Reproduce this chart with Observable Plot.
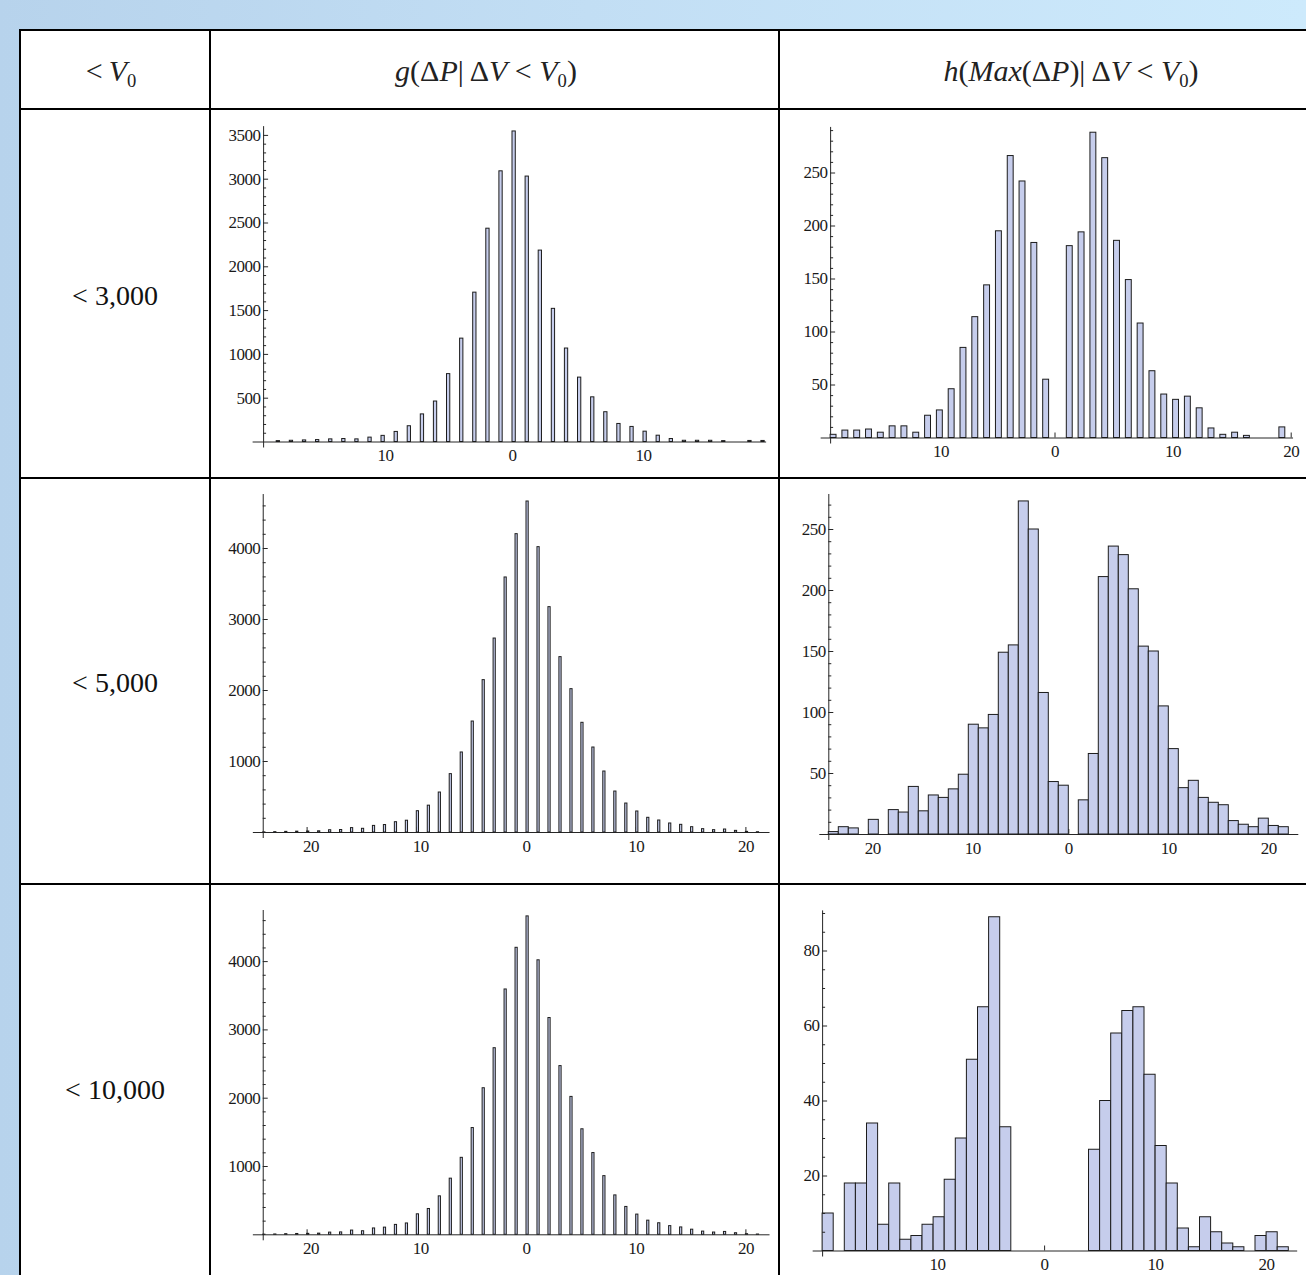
<!DOCTYPE html>
<html><head><meta charset="utf-8">
<script src="https://cdn.jsdelivr.net/npm/d3@7"></script>
<script src="https://cdn.jsdelivr.net/npm/@observablehq/plot@0.6"></script>
<style>
html,body{margin:0;padding:0;}
body{width:1306px;height:1275px;overflow:hidden;position:relative;background:linear-gradient(90deg,#b7d3ec 0%,#c2def4 45%,#cdeafc 100%);font-family:'Liberation Serif','Times New Roman',serif;}
#table{position:absolute;left:19px;top:29px;width:1400px;height:1400px;background:#fff;}
.vl{position:absolute;width:2px;background:#000;}
.hl{position:absolute;height:2px;background:#000;}
.hdr{position:absolute;transform:translate(-50%,-50%);font-size:30px;color:#222;white-space:nowrap;line-height:1;}
.hdr sub{font-size:0.62em;vertical-align:-0.3em;line-height:0;font-style:normal;}
.rowlab{position:absolute;transform:translate(-50%,-50%);font-size:28px;color:#111;white-space:nowrap;line-height:1;}
.chart{position:absolute;}
.chart svg{overflow:visible;display:block;}
.chart svg, .chart svg text{font-family:'Liberation Serif','Times New Roman',serif !important;font-size:17px !important;letter-spacing:-0.5px;}
</style></head>
<body>
<div id="table"></div>
<div class="vl" style="left:19px;top:29px;height:1300px"></div>
<div class="vl" style="left:209px;top:29px;height:1300px"></div>
<div class="vl" style="left:778px;top:29px;height:1300px"></div>
<div class="hl" style="left:19px;top:29px;width:1300px"></div>
<div class="hl" style="left:19px;top:108px;width:1300px"></div>
<div class="hl" style="left:19px;top:477px;width:1300px"></div>
<div class="hl" style="left:19px;top:883px;width:1300px"></div>

<div class="hdr" style="left:111px;top:71px">&lt;&thinsp;<i>V</i><sub>0</sub></div>
<div class="hdr" style="left:486px;top:71px"><i>g</i>(Δ<i>P</i>|&thinsp;Δ<i>V</i> &lt; <i>V</i><sub>0</sub>)</div>
<div class="hdr" style="left:1071px;top:71px"><i>h</i>(<i>Max</i>(Δ<i>P</i>)|&thinsp;Δ<i>V</i> &lt; <i>V</i><sub>0</sub>)</div>

<div class="rowlab" style="left:115px;top:296px">&lt; 3,000</div>
<div class="rowlab" style="left:115px;top:683px">&lt; 5,000</div>
<div class="rowlab" style="left:115px;top:1090px">&lt; 10,000</div>

<div id="c1" class="chart"></div>
<div id="c2" class="chart"></div>
<div id="c3" class="chart"></div>
<div id="c4" class="chart"></div>
<div id="c5" class="chart"></div>
<div id="c6" class="chart"></div>

<script>
// ---------- DATA ----------
// g(ΔP | ΔV < 3,000)
const g3000Bins = [-18,-17,-16,-15,-14,-13,-12,-11,-10,-9,-8,-7,-6,-5,-4,-3,-2,-1,0,1,2,3,4,5,6,7,8,9,10,11,12,13,14,15,16,17,18,19];
const g3000Counts = [10,14,18,22,30,34,30,50,70,115,180,315,462,775,1180,1705,2435,3090,3545,3030,2185,1520,1067,735,510,340,206,172,118,72,34,14,14,14,10,0,12,12];
// h(Max(ΔP) | ΔV < 3,000)
const h3000Bins = [-19,-18,-17,-16,-15,-14,-13,-12,-11,-10,-9,-8,-7,-6,-5,-4,-3,-2,-1,0,1,2,3,4,5,6,7,8,9,10,11,12,13,14,15,16,17,18,19];
const h3000Counts = [3,7,7,8,5,11,11,5,21,26,46,85,114,144,195,266,242,184,55,0,181,194,288,264,186,149,108,63,41,36,39,28,9,3,5,2,0,0,10];
// g(ΔP | ΔV < 5,000)
const g5000Bins = [-24,-23,-22,-21,-20,-19,-18,-17,-16,-15,-14,-13,-12,-11,-10,-9,-8,-7,-6,-5,-4,-3,-2,-1,0,1,2,3,4,5,6,7,8,9,10,11,12,13,14,15,16,17,18,19,20,21];
const g5000Counts = [2,5,9,12,14,17,32,35,62,52,93,105,145,166,300,378,563,822,1127,1563,2146,2732,3592,4202,4662,4019,3174,2470,2019,1545,1197,859,577,408,296,207,169,127,108,75,47,33,42,23,9,4];
// h(Max(ΔP) | ΔV < 5,000)
const h5000Bins = [-24,-23,-22,-21,-20,-19,-18,-17,-16,-15,-14,-13,-12,-11,-10,-9,-8,-7,-6,-5,-4,-3,-2,-1,0,1,2,3,4,5,6,7,8,9,10,11,12,13,14,15,16,17,18,19,20,21];
const h5000Counts = [2,6,5,0,12,0,20,18,39,19,32,30,37,49,90,87,98,149,155,273,250,116,43,40,0,28,66,211,236,229,201,154,150,105,70,38,44,30,26,24,11,8,6,13,7,6];
// g(ΔP | ΔV < 10,000)
const g10000Bins = [-24,-23,-22,-21,-20,-19,-18,-17,-16,-15,-14,-13,-12,-11,-10,-9,-8,-7,-6,-5,-4,-3,-2,-1,0,1,2,3,4,5,6,7,8,9,10,11,12,13,14,15,16,17,18,19,20,21];
const g10000Counts = [2,5,9,12,14,17,32,35,62,52,93,105,145,166,300,378,563,822,1127,1563,2146,2732,3592,4202,4662,4019,3174,2470,2019,1545,1197,859,577,408,296,207,169,127,108,75,47,33,42,23,9,4];
// h(Max(ΔP) | ΔV < 10,000)
const h10000Bins = [-20,-19,-18,-17,-16,-15,-14,-13,-12,-11,-10,-9,-8,-7,-6,-5,-4,-3,-2,-1,0,1,2,3,4,5,6,7,8,9,10,11,12,13,14,15,16,17,18,19,20,21];
const h10000Counts = [10,0,18,18,34,7,18,3,4,7,9,19,30,51,65,89,33,0,0,0,0,0,0,0,27,40,58,64,65,47,28,18,6,1,9,5,2,1,0,4,5,1];

// tick labels
const gTicksY3000 = [500,1000,1500,2000,2500,3000,3500];
const gTicksY5000 = [1000,2000,3000,4000];
const hTicksY = [50,100,150,200,250];
const hTicksY10000 = [20,40,60,80];
const xTicks3000g = [-10,0,10];
const xTicks3000h = [-10,0,10,20];
const xTicksWide = [-20,-10,0,10,20];
const xTicks10000h = [-10,0,10,20];

// ---------- STYLE / LAYOUT ----------
const FILL = "#c6cdec", EDGE = "#1c1c1c", AXIS = "#262626";
const col2 = {x:211, w:567}, col3 = {x:780, w:526};
const row1 = {y:110, h:367}, row2 = {y:479, h:404}, row3 = {y:885, h:390};

function minorTicks(step, top, major) {
  return d3.range(step, top, step).filter(v => !major.includes(v));
}

function drawChart(id, bins, counts, L) {
  const cell = L.cell;
  const el = document.getElementById(id);
  el.style.left = cell.x + "px"; el.style.top = cell.y + "px";
  const px = v => L.x0 + v * L.ux;
  const py = v => L.yb - v * L.uy;
  const mL = px(L.xa) - cell.x, mR = cell.x + cell.w - px(L.xe);
  const mT = py(L.yt) - cell.y, mB = cell.y + cell.h - L.yb;
  const ext = 6 / L.uy;
  const data = bins.map((b, i) => ({b, v: counts[i]})).filter(d => d.v > 0);
  const fmtX = d => d < 0 ? "\u2002" + Math.abs(d) : String(d);
  const fmtY = d => String(d);
  const minor = minorTicks(L.minorStep, L.yt, L.major);
  const svg = Plot.plot({
    width: cell.w, height: cell.h,
    marginLeft: mL, marginRight: mR, marginTop: mT, marginBottom: mB,
    x: {domain: [L.xa, L.xe], axis: null, label: null},
    y: {domain: [0, L.yt], axis: null, label: null},
    style: "font-family:'Liberation Serif','Times New Roman',serif;font-size:17px;background:transparent;color:#1a1a1a;overflow:visible;",
    marks: [
      Plot.ruleY([0], {x1: L.xs, x2: L.xe, stroke: AXIS}),
      Plot.ruleX([L.xa], {y1: -ext, y2: L.yt, stroke: AXIS}),
      Plot.axisX(L.xTicks, {anchor: "bottom", tickSize: -5, tickFormat: () => "", label: null, stroke: AXIS}),
      Plot.rect(data, {x1: "b", x2: d => d.b + L.barW, y1: 0, y2: "v", fill: FILL, stroke: EDGE, strokeWidth: 1}),
      Plot.axisY(minor, {anchor: "left", tickSize: -3, tickFormat: () => "", label: null, stroke: AXIS}),
      Plot.axisY(L.major, {anchor: "left", tickSize: -5, tickFormat: () => "", label: null, stroke: AXIS}),
      Plot.axisY(L.major, {anchor: "left", tickSize: 0, tickPadding: 3, tickFormat: fmtY, label: null}),
      Plot.axisX(L.xTicks, {anchor: "bottom", tickSize: 0, tickPadding: 7, tickFormat: fmtX, label: null})
    ]
  });
  el.appendChild(svg);
}

drawChart("c1", g3000Bins, g3000Counts, {cell:{...col2, ...row1}, x0:512, ux:13.1, yb:441.5, uy:0.0876, xa:-19, xs:-19.8, xe:19.4, yt:3600, barW:0.25, major:gTicksY3000, minorStep:100, xTicks:xTicks3000g});
drawChart("c2", h3000Bins, h3000Counts, {cell:{...col3, ...row1}, x0:1054.5, ux:11.81, yb:437.5, uy:1.06, xa:-19, xs:-19.8, xe:20.2, yt:293, barW:0.5, major:hTicksY, minorStep:10, xTicks:xTicks3000h});
drawChart("c3", g5000Bins, g5000Counts, {cell:{...col2, ...row2}, x0:526, ux:10.97, yb:832, uy:0.071, xa:-24, xs:-24.9, xe:22.2, yt:4760, barW:0.2, major:gTicksY5000, minorStep:200, xTicks:xTicksWide});
drawChart("c4", h5000Bins, h5000Counts, {cell:{...col3, ...row2}, x0:1068.3, ux:10.0, yb:834, uy:1.22, xa:-24, xs:-24.9, xe:23, yt:278.7, barW:1, major:hTicksY, minorStep:10, xTicks:xTicksWide});
drawChart("c5", g10000Bins, g10000Counts, {cell:{...col2, ...row3}, x0:526, ux:10.97, yb:1234.3, uy:0.0683, xa:-24, xs:-24.9, xe:22.2, yt:4748, barW:0.2, major:gTicksY5000, minorStep:200, xTicks:xTicksWide});
drawChart("c6", h10000Bins, h10000Counts, {cell:{...col3, ...row3}, x0:1044.1, ux:11.1, yb:1250.5, uy:3.75, xa:-20, xs:-20.85, xe:22.8, yt:90.7, barW:1, major:hTicksY10000, minorStep:5, xTicks:xTicks10000h});
</script>
</body></html>
